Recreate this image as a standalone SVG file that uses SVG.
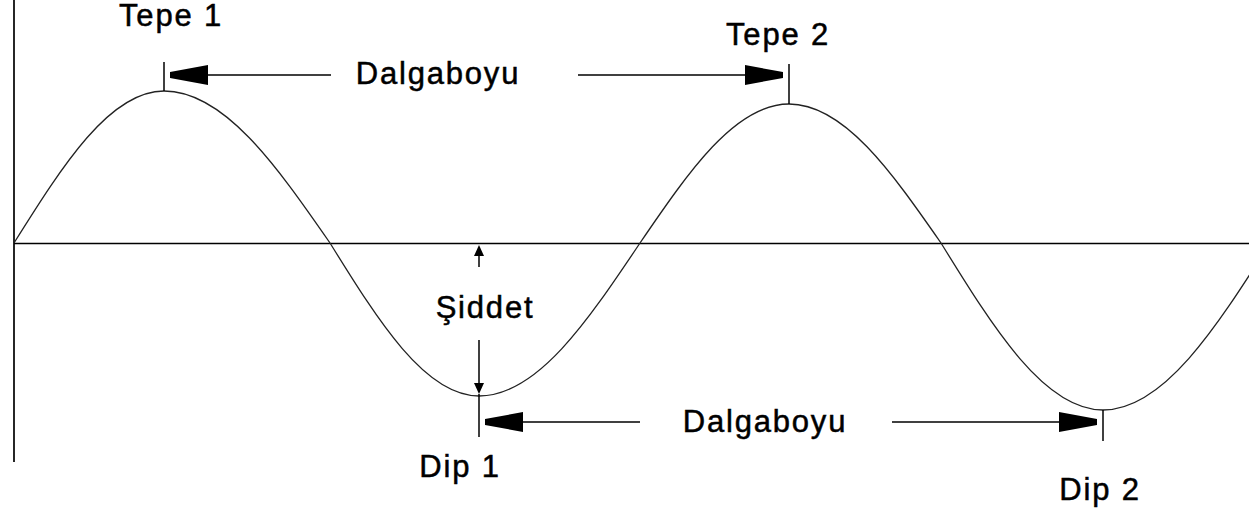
<svg xmlns="http://www.w3.org/2000/svg" xmlns:xlink="http://www.w3.org/1999/xlink" width="1249" height="508" viewBox="0 0 1249 508">
<style>
.lbl{font-family:"Liberation Sans",Arial,sans-serif;font-size:31px;letter-spacing:1.8px;fill:#000;stroke:#000;stroke-width:0.5;text-anchor:middle}
.ax{stroke:#000;stroke-width:1.7;fill:none}
.wave{stroke:#222;stroke-width:1.3;fill:none}
.ln{stroke:#000;stroke-width:1.5;fill:none}
.head{fill:#000}
</style>
<defs>
<polygon id="ah" points="0,-3 38,-10 38,10 0,3"/>
<polygon id="sh" points="0,0 -5,11 5,11"/>
</defs>
<rect width="1249" height="508" fill="#fff"/>
<g id="axes">
<line class="ax" x1="14" y1="0" x2="14" y2="462"/>
<line class="ax" x1="14" y1="243.5" x2="1249" y2="243.5"/>
</g>
<g id="wave">
<path class="wave" d="M14,243 C62.9,165.1 109.7,91 164,91 C224.1,91 275.9,165.1 330,243 C378.6,321.4 425.1,396 479,396 C537.3,396 587.5,321.4 640,243 C688.6,171.8 735.1,104 789,104 C844,104 891.4,171.8 941,243 C993.8,328.6 1044.4,410 1103,410 C1163.3,410 1215.7,328.6 1270,243"/>
</g>
<g id="connectors">
<line class="ln" x1="164" y1="62" x2="164" y2="91"/>
<line class="ln" x1="208" y1="75" x2="331" y2="75"/>
<use xlink:href="#ah" class="head" transform="translate(170,75)"/>
<line class="ln" x1="578" y1="75" x2="745" y2="75"/>
<use xlink:href="#ah" class="head" transform="translate(783,75) scale(-1,1)"/>
<line class="ln" x1="789" y1="64" x2="789" y2="104"/>
<line class="ln" x1="479" y1="255" x2="479" y2="267"/>
<use xlink:href="#sh" class="head" transform="translate(479,245)"/>
<line class="ln" x1="479" y1="340" x2="479" y2="385"/>
<use xlink:href="#sh" class="head" transform="translate(479,394) scale(1,-1)"/>
<line class="ln" x1="479" y1="394" x2="479" y2="437"/>
<line class="ln" x1="523" y1="422" x2="640" y2="422"/>
<use xlink:href="#ah" class="head" transform="translate(485,422)"/>
<line class="ln" x1="892" y1="422" x2="1059" y2="422"/>
<use xlink:href="#ah" class="head" transform="translate(1097,422) scale(-1,1)"/>
<line class="ln" x1="1103" y1="410" x2="1103" y2="441"/>
</g>
<g id="tepe1"><text class="lbl" x="171" y="26">Tepe 1</text></g>
<g id="dalgaboyu-top"><text class="lbl" x="438" y="84">Dalgaboyu</text></g>
<g id="tepe2"><text class="lbl" x="778" y="45">Tepe 2</text></g>
<g id="siddet"><text class="lbl" x="485" y="318">Şiddet</text></g>
<g id="dalgaboyu-bottom"><text class="lbl" x="765" y="432">Dalgaboyu</text></g>
<g id="dip1"><text class="lbl" x="460" y="477">Dip 1</text></g>
<g id="dip2"><text class="lbl" x="1100" y="500">Dip 2</text></g>
</svg>
